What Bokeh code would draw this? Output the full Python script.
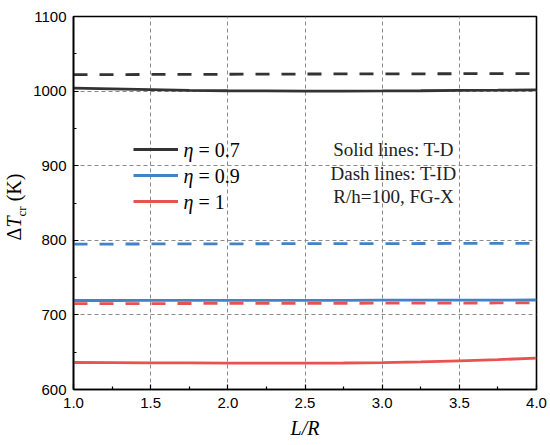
from bokeh.plotting import figure
from bokeh.models import Legend, LegendItem, Label, FixedTicker, Div
from bokeh.layouts import row
from bokeh.embed import file_html
from bokeh.resources import INLINE

x = [1.0, 1.25, 1.5, 1.75, 2.0, 2.25, 2.5, 2.75, 3.0, 3.25, 3.5, 3.75, 4.0]
td_07 = [1004, 1003, 1002, 1001, 1000.5, 1000.2, 1000, 1000, 1000.2, 1000.5, 1001, 1001.3, 1001.7]
tid_07 = [1022, 1022.1, 1022.3, 1022.4, 1022.6, 1022.7, 1022.9, 1023, 1023.1, 1023.2, 1023.3, 1023.4, 1023.5]
td_09 = [719.3, 719.3, 719.4, 719.4, 719.5, 719.5, 719.6, 719.6, 719.7, 719.7, 719.8, 719.9, 720]
tid_09 = [795, 795, 795.1, 795.2, 795.3, 795.4, 795.5, 795.5, 795.6, 795.7, 795.8, 795.9, 796]
td_1 = [636.2, 636, 635.8, 635.6, 635.4, 635.3, 635.3, 635.5, 636, 637, 638.5, 640, 642]
tid_1 = [715, 715.1, 715.2, 715.3, 715.4, 715.4, 715.5, 715.6, 715.7, 715.8, 715.9, 716, 716]
x_ticks = [1.0, 1.5, 2.0, 2.5, 3.0, 3.5, 4.0]
y_ticks = [600, 700, 800, 900, 1000, 1100]
eta_values = ["= 0.7", "= 0.9", "= 1"]
notes = ["Solid lines: T-D", "Dash lines: T-ID", "R/h=100, FG-X"]

BLACK = "#333333"
BLUE = "#4283c8"
RED = "#e8524f"
SERIF = "Liberation Serif"
SANS = "Liberation Sans"

YW = 30            # width of the y-label strip
W, H = 548, 445
FL, FT, FR, FB = 73, 16, 536, 389  # frame edges in page px

p = figure(width=W - YW, height=H, x_range=(1.0, 4.0), y_range=(600, 1100),
           output_backend="svg", toolbar_location=None, margin=0,
           min_border_left=FL - YW, min_border_right=W - FR, min_border_top=FT,
           min_border_bottom=H - FB)

def dx(px):
    return 1.0 + (px - FL) * 3.0 / (FR - FL)

def dy(py):
    return 1100 - (py - FT) * 500.0 / (FB - FT)

for ax in (p.xaxis[0], p.yaxis[0]):
    ax.axis_line_width = 1.6
    ax.axis_line_color = "black"
    ax.major_tick_in = 5
    ax.major_tick_out = 0
    ax.minor_tick_in = 3
    ax.minor_tick_out = 0
    ax.major_tick_line_width = 1.2
    ax.minor_tick_line_width = 1.2
    ax.major_label_text_font = SANS
    ax.major_label_text_font_size = "15px"
    ax.major_label_text_color = "black"

p.xaxis.ticker = FixedTicker(ticks=x_ticks, minor_ticks=[1.25, 1.75, 2.25, 2.75, 3.25, 3.75])
p.yaxis.ticker = FixedTicker(ticks=y_ticks, minor_ticks=[650, 750, 850, 950, 1050])
p.xaxis.major_label_overrides = {t: f"{t:.1f}" for t in x_ticks}
p.xaxis.major_label_standoff = 8
p.yaxis.major_label_standoff = 7

p.xaxis.axis_label = "L/R"
p.xaxis.axis_label_text_font = SERIF
p.xaxis.axis_label_text_font_size = "20px"
p.xaxis.axis_label_text_font_style = "italic"
p.xaxis.axis_label_text_color = "black"
p.xaxis.axis_label_standoff = 6

p.outline_line_color = "black"
p.outline_line_width = 1.6
p.grid.grid_line_color = "#8a8a8a"
p.grid.grid_line_dash = "4 3"
p.grid.grid_line_width = 1

lw = 2.8
r1 = p.line(x, td_07, line_color=BLACK, line_width=lw)
p.line(x, tid_07, line_color=BLACK, line_width=lw, line_dash="14 12")
r2 = p.line(x, td_09, line_color=BLUE, line_width=lw)
p.line(x, tid_09, line_color=BLUE, line_width=lw, line_dash="14 12")
r3 = p.line(x, td_1, line_color=RED, line_width=lw)
p.line(x, tid_1, line_color=RED, line_width=lw, line_dash="14 12")

legend = Legend(items=[LegendItem(label=" ", renderers=[r1]),
                       LegendItem(label=" ", renderers=[r2]),
                       LegendItem(label=" ", renderers=[r3])],
                location=(60, 178), padding=0, margin=0, spacing=6,
                glyph_width=45, glyph_height=20, label_height=20, label_width=5,
                label_standoff=0, label_text_font_size="10px",
                border_line_color=None, background_fill_alpha=0)
p.add_layout(legend, "center")

def lab(txt, px, py, size, style="normal", align="left", color="black"):
    p.add_layout(Label(x=dx(px), y=dy(py), text=txt,
                       text_align=align, text_baseline="middle",
                       text_font=SERIF, text_font_size=size, text_font_style=style,
                       text_color=color))

# legend texts
for t, yy in zip(eta_values, [149, 175, 201]):
    lab("η", 183, yy, "20px", "italic")
    lab(t, 198, yy, "20px")

# annotation texts
for t, yy in zip(notes, [149, 173, 196]):
    lab(t, 393, yy, "19px", align="center", color="#222222")

# y-axis label: rotated HTML text with italic T and subscript
ylabel_html = (
    f'<div style="position:relative;width:{YW}px;height:{H}px;">'
    '<div style="position:absolute;left:16px;top:207px;'
    'transform:translate(-50%,-50%) rotate(-90deg);white-space:nowrap;'
    "font-family:'Liberation Serif';font-size:20px;line-height:1;color:black;\">"
    'Δ<i>T</i><sub style="font-size:13px;">cr</sub> (K)</div></div>'
)
ydiv = Div(text=ylabel_html, width=YW, height=H, margin=0)

layout = row(ydiv, p, margin=0, spacing=0)
open("out.html", "w").write(file_html(layout, INLINE))
